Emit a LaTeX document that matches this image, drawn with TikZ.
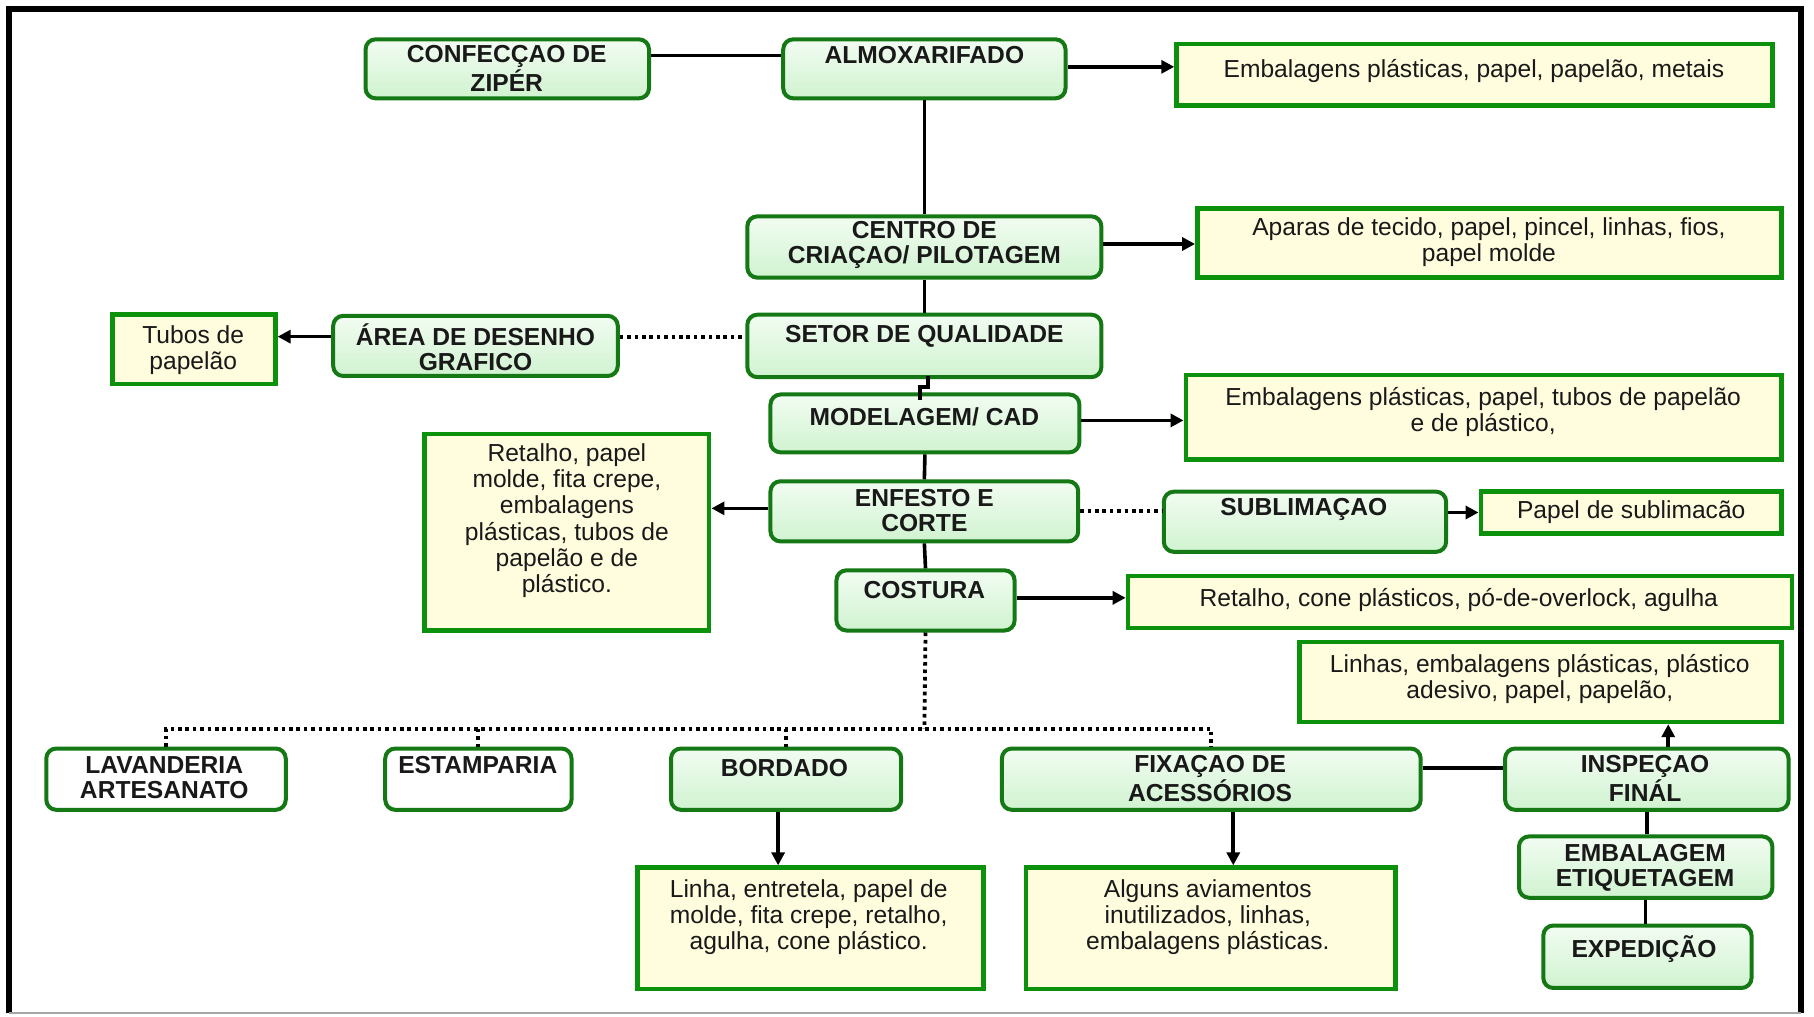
\documentclass[tikz,border=0pt]{standalone}
\usepackage{fontspec}
\setmainfont{Liberation Sans}
\usetikzlibrary{arrows.meta,fit,calc}
\definecolor{pgreen}{RGB}{20,120,20}
\definecolor{wgreen}{RGB}{12,145,12}
\definecolor{pgtop}{RGB}{242,252,242}
\definecolor{pgbot}{RGB}{208,243,208}
\definecolor{wfill}{RGB}{255,253,222}
\definecolor{txt}{RGB}{25,25,25}
\tikzset{
  proc/.style={draw=pgreen, line width=2pt, rounded corners=5pt, top color=pgtop, bottom color=pgbot, inner sep=0pt},
  procw/.style={draw=pgreen, line width=2pt, rounded corners=5pt, fill=white, inner sep=0pt},
  waste/.style={draw=wgreen, line width=2.3pt, fill=wfill, inner sep=0pt},
  htext/.style={font=\bfseries\fontsize{12.3}{12.6}\selectfont, text=txt, align=center, inner sep=0pt},
  wtext/.style={font=\fontsize{12.3}{13}\selectfont, text=txt, align=center, inner sep=0pt},
  con/.style={line width=1.8pt, black},
  arr/.style={con, -{Triangle[length=6.5pt,width=6.5pt]}},
  dotl/.style={line width=1.9pt, black, dash pattern=on 1.8pt off 1.9pt}
}
\begin{document}
\begin{tikzpicture}[x=0.5784pt, y=-0.5784pt]
\useasboundingbox (0,0) rectangle (1568,879);
% frame
\draw[black, line width=3pt] (8,876) -- (8,8) -- (1557,8) -- (1557,876);
\draw[gray!70, line width=1pt] (8,876) -- (1557,876);

% process boxes
\node[proc, fit={(316,34) (561,85)}] (zip) {};
\node[htext] (zip-t) at (438,59) {CONFECÇAO DE\\ZIPÉR};
\node[proc, fit={(677,34) (921,85)}] (alm) {};
\node[htext] (alm-t) at (799,48) {ALMOXARIFADO};
\node[proc, fit={(646,187) (952,240)}] (cen) {};
\node[htext] (cen-t) at (799,212) {CENTRO DE\\CRIAÇAO/ PILOTAGEM};
\node[proc, fit={(288,273) (534,325)}] (are) {};
\node[htext] (are-t) at (411,300) {ÁREA DE DESENHO\\GRAFICO};
\node[proc, fit={(646,272) (952,326)}] (set) {};
\node[htext] (set-t) at (799,291) {SETOR DE QUALIDADE};
\node[proc, fit={(666,341) (933,391)}] (mod) {};
\node[htext] (mod-t) at (799,360) {MODELAGEM/ CAD};
\node[proc, fit={(666,416) (932,468)}] (enf) {};
\node[htext] (enf-t) at (799,441) {ENFESTO E\\CORTE};
\node[proc, fit={(1006,425) (1250,477)}] (sub) {};
\node[htext] (sub-t) at (1127,440) {SUBLIMAÇAO};
\node[proc, fit={(723,493) (877,545)}] (cos) {};
\node[htext] (cos-t) at (799,510) {COSTURA};
\node[procw, fit={(40,647) (247,700)}] (lav) {};
\node[htext] (lav-t) at (142,672) {LAVANDERIA\\ARTESANATO};
\node[procw, fit={(333,647) (494,700)}] (est) {};
\node[htext] (est-t) at (413,661) {ESTAMPARIA};
\node[proc, fit={(580,647) (779,700)}] (bor) {};
\node[htext] (bor-t) at (678,664) {BORDADO};
\node[proc, fit={(866,647) (1228,700)}] (fix) {};
\node[htext] (fix-t) at (1046,673) {FIXAÇAO DE\\ACESSÓRIOS};
\node[proc, fit={(1301,647) (1546,700)}] (ins) {};
\node[htext] (ins-t) at (1422,673) {INSPEÇAO\\FINÁL};
\node[proc, fit={(1313,723) (1532,776)}] (emb) {};
\node[htext] (emb-t) at (1422,750) {EMBALAGEM\\ETIQUETAGEM};
\node[proc, fit={(1334,800) (1514,854)}] (exp) {};
\node[htext] (exp-t) at (1421,820) {EXPEDIÇÃO};

% waste boxes
\node[waste, fit={(1017,38) (1532,91)}] (e1) {};
\node[wtext] (e1-t) at (1274,61) {Embalagens plásticas, papel, papelão, metais};
\node[waste, fit={(1035,180) (1540,240)}] (e2) {};
\node[wtext] (e2-t) at (1287,209) {Aparas de tecido, papel, pincel, linhas, fios,\\papel molde};
\node[waste, fit={(97,272) (238,332)}] (tub) {};
\node[wtext] (tub-t) at (167,303) {Tubos de\\papelão};
\node[waste, fit={(1025,324) (1540,397)}] (e3) {};
\node[wtext] (e3-t) at (1282,356) {Embalagens plásticas, papel, tubos de papelão\\e de plástico,};
\node[waste, fit={(367,375) (613,545)}] (ret) {};
\node[wtext, font=\fontsize{12.3}{13.1}\selectfont] (ret-t) at (490,450) {Retalho, papel\\molde, fita crepe,\\embalagens\\plásticas, tubos de\\papelão e de\\plástico.};
\node[waste, fit={(1280,425) (1540,461)}] (pap) {};
\node[wtext] (pap-t) at (1410,443) {Papel de sublimacão};
\node[waste, fit={(975,498) (1549,543)}] (e4) {};
\node[wtext] (e4-t) at (1261,519) {Retalho, cone plásticos, pó-de-overlock, agulha};
\node[waste, fit={(1123,555) (1540,624)}] (e5) {};
\node[wtext] (e5-t) at (1331,587) {Linhas, embalagens plásticas, plástico\\adesivo, papel, papelão,};
\node[waste, fit={(551,750) (850,855)}] (e6) {};
\node[wtext] (e6-t) at (699,793) {Linha, entretela, papel de\\molde, fita crepe, retalho,\\agulha, cone plástico.};
\node[waste, fit={(887,750) (1206,855)}] (e7) {};
\node[wtext] (e7-t) at (1044,793) {Alguns aviamentos\\inutilizados, linhas,\\embalagens plásticas.};

% connectors
\draw[con] (zip.east |- alm-t) -- (alm.west |- alm-t);
\draw[arr] ([yshift=1pt]alm.east) -- ([yshift=1pt]e1.west |- alm.east);
\draw[con] (alm.south) -- (cen.north);
\draw[arr] ([yshift=1.5pt]cen.east) -- ([yshift=1.5pt]e2.west |- cen.east);
\draw[con] (cen.south) -- (set.north);
\draw[arr] (are.west |- set-t) -- (tub.east |- set-t);
\draw[dotl] (are.east |- set-t) -- (set.west |- set-t);
\draw[con] (set.south) ++(3,-3) -- ++(0,10) -- ++(-7,0) -- ++(0,11);
\draw[arr] ([yshift=1.5pt]mod.east) -- ([yshift=1.5pt]e3.west |- mod.east);
\draw[con] (mod.south) -- (enf.north);
\draw[arr] ([yshift=1.5pt]enf.west) -- ([yshift=1.5pt]ret.east |- enf.west);
\draw[dotl] (enf.east) -- (sub.west |- enf.east);
\draw[arr] (sub.east |- pap.west) -- (pap.west);
\draw[con] (enf.south) -- (cos.north);
\draw[arr] ([yshift=1.3pt]cos.east) -- ([yshift=1.3pt]e4.west |- cos.east);
\coordinate (hub) at (799,630);
\draw[dotl] (cos.south) -- (hub);
\draw[dotl] (lav.north) -- (lav.north |- hub) -- (fix.north |- hub) -- (fix.north);
\draw[dotl] (est.north |- hub) -- (est.north);
\draw[dotl] (bor.north |- hub) -- (bor.north);
\draw[arr] ([xshift=-4pt]bor.south) -- ([xshift=-4pt]bor.south |- e6.north);
\draw[arr] ([xshift=11pt]fix.south) -- ([xshift=11pt]fix.south |- e7.north);
\draw[con] ([yshift=5.5pt]fix.east) -- ([yshift=5.5pt]ins.west);
\draw[arr] ([xshift=10.7pt]ins.north) -- ([xshift=10.7pt]ins.north |- e5.south);
\draw[con] (ins.south) -- (ins.south |- emb.north);
\draw[con] (emb.south) -- (emb.south |- exp.north);
\end{tikzpicture}
\end{document}
